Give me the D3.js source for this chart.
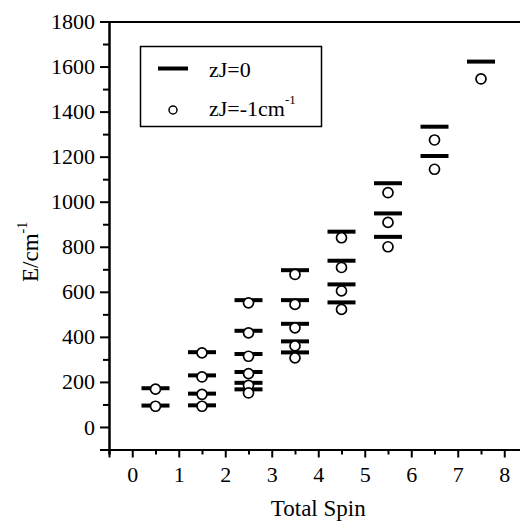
<!DOCTYPE html>
<html lang="en">
<head>
<meta charset="utf-8">
<style>
  body { margin: 0; background: white; }
</style>
</head>
<body>
<script src="https://d3js.org/d3.v7.min.js"></script>
<script>
// total spin of each group of levels
var spins = [0.5, 1.5, 2.5, 3.5, 4.5, 5.5, 6.5, 7.5];
// energy levels (cm-1), zJ = 0  (bars)
var levelsZJ0 = [
  [172, 95],
  [332, 229, 148, 96],
  [563, 427, 324, 244, 196, 167],
  [696, 563, 458, 380, 331],
  [867, 738, 633, 553],
  [1082, 948, 844],
  [1333, 1203],
  [1622]
];
// energy levels (cm-1), zJ = -1 cm-1  (circles)
var levelsZJ1 = [
  [168, 92],
  [329, 222, 145, 92],
  [551, 418, 314, 237, 185, 151],
  [677, 544, 440, 360, 307],
  [840, 708, 604, 522],
  [1040, 908, 800],
  [1274, 1144],
  [1545]
];
var xTicks = [0, 1, 2, 3, 4, 5, 6, 7, 8];
var yTicks = [0, 200, 400, 600, 800, 1000, 1200, 1400, 1600, 1800];

var serif = "'Liberation Serif', 'Times New Roman', serif";
var width = 520, height = 525;
var svg = d3.select("body").append("svg")
    .attr("width", width)
    .attr("height", height)
    .style("font-family", serif);

var x = d3.scaleLinear().domain([-0.5, 8.5]).range([109, 527.5]);
var y = d3.scaleLinear().domain([-100, 1800]).range([449.5, 21.5]);

// flatten into points
var bars = [], circles = [];
spins.forEach(function(s, i) {
  levelsZJ0[i].forEach(function(e) { bars.push({s: s, e: e}); });
  levelsZJ1[i].forEach(function(e) { circles.push({s: s, e: e}); });
});

// axes
var yMinor = d3.range(-100, 1800, 200);
var xMinor = d3.range(-0.5, 8.5, 1);

svg.append("g").attr("transform", "translate(" + x(-0.5) + ",0)")
    .call(d3.axisLeft(y).tickValues(yTicks).tickSize(9).tickPadding(5).tickFormat(d3.format("d")));
svg.append("g").attr("transform", "translate(" + x(-0.5) + ",0)")
    .call(d3.axisLeft(y).tickValues(yMinor).tickSize(6).tickFormat(""));

svg.append("g").attr("transform", "translate(0," + y(-100) + ")")
    .call(d3.axisBottom(x).tickValues(xTicks).tickSize(8).tickPadding(9));
svg.append("g").attr("transform", "translate(0," + y(-100) + ")")
    .call(d3.axisBottom(x).tickValues(xMinor).tickSize(5).tickFormat(""));

// top frame
svg.append("g").attr("transform", "translate(0," + y(1800) + ")")
    .call(d3.axisTop(x).tickValues([]).tickSizeOuter(0));

svg.selectAll(".domain").attr("stroke", "#000").attr("stroke-width", 2);
svg.selectAll(".tick line").attr("stroke", "#000").attr("stroke-width", 2);
svg.selectAll(".tick text")
    .style("font-family", serif)
    .style("font-size", "22px")
    .attr("fill", "#000");

// axis titles
svg.append("text")
    .attr("x", x(4)).attr("y", 516)
    .attr("text-anchor", "middle")
    .style("font-family", serif)
    .style("font-size", "23px")
    .text("Total Spin");

var yt = svg.append("text")
    .attr("transform", "translate(38,282) rotate(-90)")
    .style("font-family", serif)
    .style("font-size", "23px");
yt.append("tspan").text("E/cm");
yt.append("tspan").style("font-size", "14px").attr("dy", -11).text("-1");

// data: bars (zJ = 0)
var half = 14;
svg.append("g").selectAll("line")
  .data(bars).enter().append("line")
    .attr("x1", function(d) { return x(d.s) - half; })
    .attr("x2", function(d) { return x(d.s) + half; })
    .attr("y1", function(d) { return y(d.e); })
    .attr("y2", function(d) { return y(d.e); })
    .attr("stroke", "#000").attr("stroke-width", 4);

// data: circles (zJ = -1)
svg.append("g").selectAll("circle")
  .data(circles).enter().append("circle")
    .attr("cx", function(d) { return x(d.s); })
    .attr("cy", function(d) { return y(d.e); })
    .attr("r", 5)
    .attr("fill", "white").attr("stroke", "#000").attr("stroke-width", 1.7);

// legend
var lg = svg.append("g");
lg.append("rect")
    .attr("x", 140.5).attr("y", 46.5).attr("width", 181).attr("height", 80)
    .attr("fill", "white").attr("stroke", "#000").attr("stroke-width", 1.5);
lg.append("line")
    .attr("x1", 158).attr("x2", 188).attr("y1", 68.5).attr("y2", 68.5)
    .attr("stroke", "#000").attr("stroke-width", 4);
lg.append("text").attr("x", 209).attr("y", 77)
    .style("font-family", serif).style("font-size", "22px").text("zJ=0");
lg.append("circle")
    .attr("cx", 173).attr("cy", 110).attr("r", 4)
    .attr("fill", "white").attr("stroke", "#000").attr("stroke-width", 1.5);
var lt = lg.append("text").attr("x", 209).attr("y", 116)
    .style("font-family", serif).style("font-size", "22px");
lt.append("tspan").text("zJ=-1cm");
lt.append("tspan").style("font-size", "13px").attr("dy", -12).text("-1");
</script>
</body>
</html>
